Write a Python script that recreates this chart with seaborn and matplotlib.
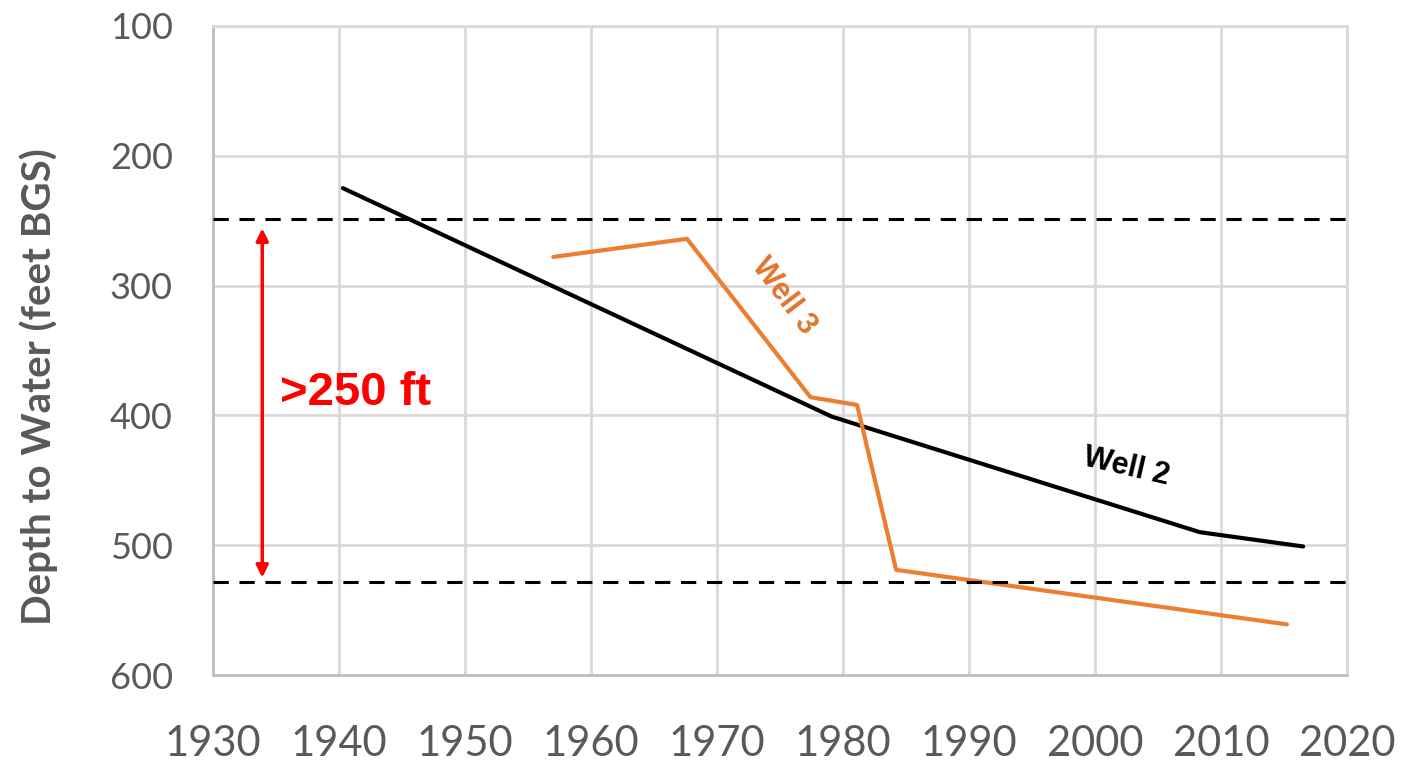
import pandas as pd
import seaborn as sns
import matplotlib.pyplot as plt

# Well 2 (black)
well2_year = [1940.3, 1979.1, 2008.3, 2016.5]
well2_depth = [225, 401, 490, 501]

# Well 3 (orange)
well3_year = [1957.0, 1967.6, 1977.4, 1981.1, 1984.2, 2015.2]
well3_depth = [278, 264, 386, 392, 519, 561]

# reference levels and arrow
upper_level = 249
lower_level = 528
arrow_year = 1933.9
arrow_top = 256
arrow_bottom = 525

x_ticks = list(range(1930, 2021, 10))
y_ticks = [100, 200, 300, 400, 500, 600]

df = pd.concat([
    pd.DataFrame({'year': well2_year, 'depth': well2_depth, 'well': 'Well 2'}),
    pd.DataFrame({'year': well3_year, 'depth': well3_depth, 'well': 'Well 3'}),
])

sns.set_style('white')
plt.rcParams['font.family'] = ['Lato', 'DejaVu Sans']

fig = plt.figure(figsize=(14.02, 7.61), dpi=100)
ax = fig.add_axes([0.152, 0.113, 0.809, 0.853])

grid_col = '#d9d9d9'
txt_col = '#595959'
orange = '#ed7d31'

sns.lineplot(data=df, x='year', y='depth', hue='well',
             palette={'Well 2': 'black', 'Well 3': orange},
             linewidth=3, legend=False, ax=ax, sort=False)

# dashed reference lines
for lvl in [upper_level, lower_level]:
    ax.axhline(lvl, color='black', lw=2.2, ls=(0, (5, 3.5)), zorder=3)

# double arrow
ax.annotate('', xy=(arrow_year, arrow_top), xytext=(arrow_year, arrow_bottom),
            arrowprops=dict(arrowstyle='<|-|>', color='red', lw=2.5,
                            mutation_scale=18, shrinkA=0, shrinkB=0))
ax.text(1935.3, 383, '>250 ft', color='red', fontsize=34, fontweight='bold',
        family=['Liberation Sans', 'DejaVu Sans'], va='center', ha='left')

# line labels
ax.text(2002.5, 440, 'Well 2', color='black', fontsize=22, fontweight='bold',
        family=['Liberation Sans', 'DejaVu Sans'], rotation=-13,
        ha='center', va='center')
ax.text(1975.3, 308, 'Well 3', color='#e0742c', fontsize=22, fontweight='bold',
        family=['Liberation Sans', 'DejaVu Sans'], rotation=-53,
        ha='center', va='center')

ax.set_xlim(1930, 2020)
ax.set_ylim(600, 100)
ax.set_xticks(x_ticks)
ax.set_yticks(y_ticks)
ax.grid(True, color=grid_col, lw=2)
ax.set_axisbelow(True)
for s in ax.spines.values():
    s.set_color(grid_col)
    s.set_linewidth(2)
ax.spines['left'].set_color('#bfbfbf')
ax.spines['bottom'].set_color('#bfbfbf')

ax.tick_params(axis='x', length=0, pad=36, labelsize=30, labelcolor=txt_col)
ax.tick_params(axis='y', length=0, pad=29, labelsize=26, labelcolor=txt_col)
ax.set_xlabel('')
ax.set_ylabel('Depth to Water (feet BGS)', fontsize=29, fontweight='bold',
              color=txt_col)
ax.yaxis.set_label_coords(-0.137, 0.445)

fig.savefig('out.png', dpi=100)
